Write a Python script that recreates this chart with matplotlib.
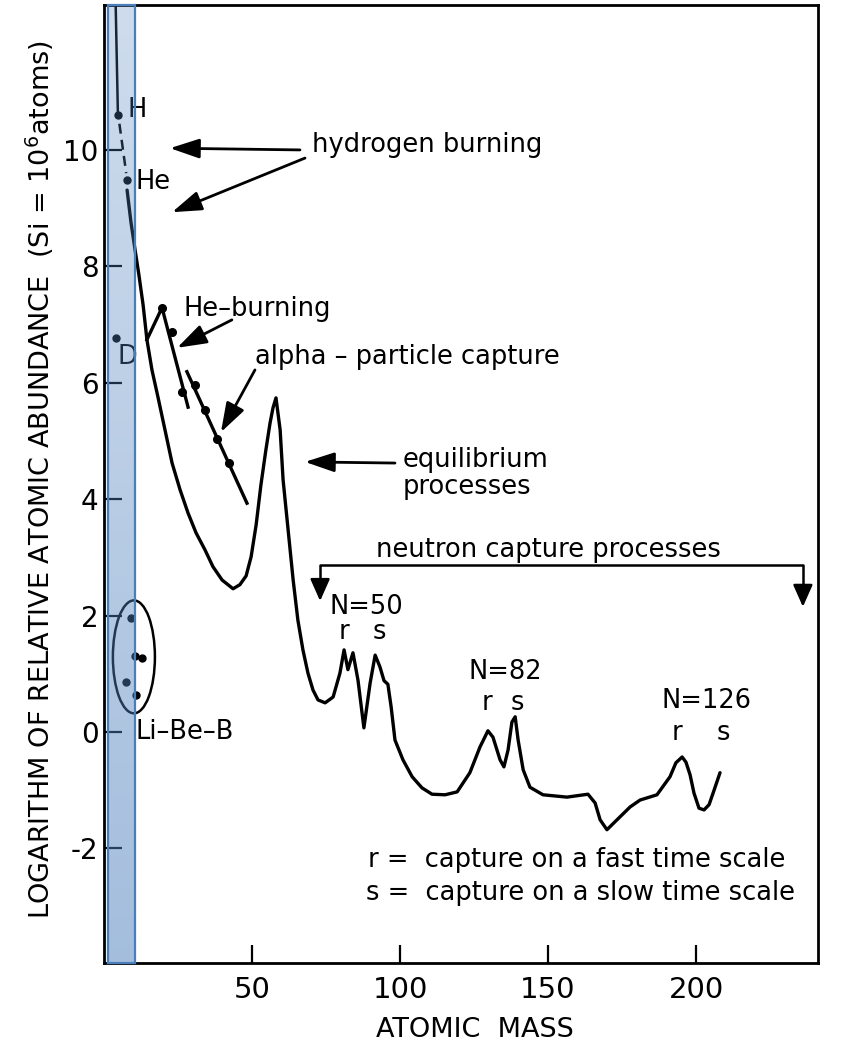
import matplotlib
matplotlib.use('Agg')
import matplotlib.pyplot as plt
import numpy as np
from matplotlib.patches import Ellipse, Rectangle

plt.rcParams['font.family'] = ['DejaVu Sans']
plt.rcParams['axes.unicode_minus'] = False

# ---------------- data ----------------
# main abundance curve (atomic mass, log abundance)
curve_mass = [7.8, 9.1, 10.5, 11.8, 13.2, 14.5, 16.2, 18.2, 20.6, 23.0, 25.7, 28.4, 31.1, 34.1,
              36.8, 39.9, 43.6, 45.9, 48.0, 49.7, 51.4, 53.0, 54.7, 56.1, 57.1, 58.1, 59.5, 60.5,
              62.2, 63.9, 65.5, 67.2, 68.9, 70.6, 72.3, 74.7, 77.4, 79.7, 81.1, 82.4, 84.1, 85.8,
              87.8, 89.9, 91.6, 93.2, 94.6, 95.9, 97.0, 98.3, 101.0, 104.1, 107.4, 110.8, 115.2,
              119.3, 123.6, 127.0, 129.7, 131.4, 133.8, 135.1, 136.5, 137.8, 138.9, 139.9, 141.6,
              143.9, 148.3, 156.4, 163.5, 165.9, 167.6, 169.9, 173.3, 177.7, 181.1, 186.8, 191.2,
              193.2, 195.3, 196.6, 198.0, 199.3, 201.0, 202.7, 204.4, 206.1, 208.1]
curve_log = [9.31, 8.76, 8.28, 7.85, 7.34, 6.74, 6.22, 5.76, 5.19, 4.62, 4.16, 3.76, 3.42, 3.13,
             2.84, 2.61, 2.46, 2.53, 2.68, 3.01, 3.56, 4.24, 4.85, 5.31, 5.57, 5.74, 5.19, 4.33,
             3.47, 2.61, 1.92, 1.41, 1.01, 0.72, 0.55, 0.50, 0.60, 1.01, 1.41, 1.07, 1.36, 0.89,
             0.07, 0.84, 1.32, 1.12, 0.88, 0.82, 0.43, -0.14, -0.48, -0.77, -0.96, -1.07, -1.08,
             -1.03, -0.70, -0.26, 0.02, -0.09, -0.48, -0.60, -0.31, 0.17, 0.26, -0.14, -0.65,
             -0.95, -1.08, -1.12, -1.07, -1.22, -1.51, -1.68, -1.51, -1.29, -1.17, -1.08, -0.77,
             -0.53, -0.43, -0.52, -0.74, -1.05, -1.31, -1.34, -1.25, -1.00, -0.70]

# line above hydrogen and the dashed H -> He link
top_mass = [3.9, 4.7]
top_log = [12.6, 10.6]
link_mass = [5.2, 7.5]
link_log = [10.45, 9.6]

# light elements
light_names = ['H', 'He', 'D']
light_mass = [4.7, 7.8, 4.1]
light_log = [10.6, 9.48, 6.77]

# He-burning zig-zag and points
heb_mass = [14.5, 19.6, 28.4]
heb_log = [6.74, 7.29, 5.58]
heb_pt_mass = [19.6, 23.0, 26.4]
heb_pt_log = [7.29, 6.87, 5.84]

# alpha-particle capture line and points
alpha_mass = [28.0, 48.3]
alpha_log = [6.19, 3.93]
alpha_pt_mass = [30.7, 34.1, 38.2, 42.2]
alpha_pt_log = [5.96, 5.53, 5.03, 4.62]

# Li-Be-B points
libeb_mass = [9.1, 10.5, 12.8, 7.4, 10.8]
libeb_log = [1.96, 1.31, 1.27, 0.86, 0.64]

x_ticks = [50, 100, 150, 200]
y_ticks = [-2, 0, 2, 4, 6, 8, 10]

# ---------------- figure ----------------
W, H = 850, 1051
fig = plt.figure(figsize=(W / 100, H / 100), dpi=100)
ax = fig.add_axes([104 / W, 88 / H, (818 - 104) / W, (1046 - 88) / H])
ax.set_xlim(0, 241.2)
ax.set_ylim(-3.97, 12.49)

lw = 2.4
ax.plot(curve_mass, curve_log, color='black', lw=lw, solid_joinstyle='round',
        solid_capstyle='round', zorder=3)
ax.plot(top_mass, top_log, color='black', lw=1.8, zorder=3)
ax.plot(link_mass, link_log, color='black', lw=1.8, ls=(0, (4, 2.5)), zorder=3)
ax.plot(light_mass, light_log, 'o', color='black', ms=5, zorder=4)

ax.plot(heb_mass, heb_log, color='black', lw=lw, solid_joinstyle='round', zorder=3)
ax.plot(heb_pt_mass, heb_pt_log, 'o', color='black', ms=5.5, zorder=4)
ax.plot(alpha_mass, alpha_log, color='black', lw=lw, zorder=3)
ax.plot(alpha_pt_mass, alpha_pt_log, 'o', color='black', ms=5.5, zorder=4)

ax.plot(libeb_mass, libeb_log, 'o', color='black', ms=5, zorder=4)
ax.add_patch(Ellipse((10.1, 1.29), 14.2, 1.94, fill=False, ec='black', lw=1.8, zorder=3))

fs = 18.5
txt = dict(fontsize=fs, color='black', zorder=4)
ax.text(8.1, 10.69, 'H', ha='left', va='center', **txt)
ax.text(10.8, 9.45, 'He', ha='left', va='center', **txt)
ax.text(4.4, 6.44, 'D', ha='left', va='center', **txt)
ax.text(70.3, 10.09, 'hydrogen burning', ha='left', va='center', **txt)
ax.text(26.7, 7.27, 'He\u2013burning', ha='left', va='center', **txt)
ax.text(51.0, 6.44, 'alpha \u2013 particle capture', ha='left', va='center', **txt)
ax.text(101.0, 4.67, 'equilibrium', ha='left', va='center', **txt)
ax.text(101.0, 4.21, 'processes', ha='left', va='center', **txt)
ax.text(150.0, 3.13, 'neutron capture processes', ha='center', va='center', **txt)
ax.text(88.5, 2.15, 'N=50', ha='center', va='center', **txt)
ax.text(81.1, 1.72, 'r', ha='center', va='center', **txt)
ax.text(92.9, 1.72, 's', ha='center', va='center', **txt)
ax.text(135.5, 1.03, 'N=82', ha='center', va='center', **txt)
ax.text(129.4, 0.50, 'r', ha='center', va='center', **txt)
ax.text(139.5, 0.50, 's', ha='center', va='center', **txt)
ax.text(203.7, 0.53, 'N=126', ha='center', va='center', **txt)
ax.text(193.6, -0.02, 'r', ha='center', va='center', **txt)
ax.text(209.1, -0.02, 's', ha='center', va='center', **txt)
ax.text(10.5, 0.0, 'Li\u2013Be\u2013B', ha='left', va='center', **txt)
ax.text(89.2, -2.20, 'r =  capture on a fast time scale', ha='left', va='center', **txt)
ax.text(88.5, -2.77, 's =  capture on a slow time scale', ha='left', va='center', **txt)

arrow = dict(arrowstyle='-|>,head_length=0.9,head_width=0.3', color='black', lw=2,
             mutation_scale=20, shrinkA=0, shrinkB=0)
ax.annotate('', xy=(22.3, 10.03), xytext=(66.2, 10.0), arrowprops=arrow, zorder=4)
ax.annotate('', xy=(23.0, 8.93), xytext=(67.9, 9.86), arrowprops=arrow, zorder=4)
ax.annotate('', xy=(24.7, 6.60), xytext=(43.2, 7.08), arrowprops=arrow, zorder=4)
ax.annotate('', xy=(39.5, 5.15), xytext=(51.0, 6.22), arrowprops=arrow, zorder=4)
ax.annotate('', xy=(67.9, 4.64), xytext=(98.3, 4.62), arrowprops=arrow, zorder=4)

# neutron capture bracket
small = dict(arrowstyle='-|>,head_length=0.9,head_width=0.4', color='black', lw=1.8,
             mutation_scale=15, shrinkA=0, shrinkB=0)
ax.plot([73.0, 73.0, 236.1, 236.1], [2.55, 2.87, 2.87, 2.5], color='black', lw=1.8, zorder=4)
ax.annotate('', xy=(73.0, 2.25), xytext=(73.0, 2.6), arrowprops=small, zorder=4)
ax.annotate('', xy=(236.1, 2.15), xytext=(236.1, 2.5), arrowprops=small, zorder=4)

# ticks and spines
ax.set_xticks(x_ticks)
ax.set_yticks(y_ticks)
ax.tick_params(direction='in', length=13, width=1.6, labelsize=20, colors='black')
ax.tick_params(axis='x', pad=9, labelsize=21)
ax.tick_params(axis='y', pad=4)
for s in ax.spines.values():
    s.set_linewidth(2)

# highlighted column
y0, y1 = ax.get_ylim()
grad = np.zeros((100, 1, 4))
base = np.array([79, 129, 189]) / 255.0
grad[:, 0, :3] = base
grad[:, 0, 3] = np.linspace(0.28, 0.52, 100)
ax.imshow(grad, extent=[1.35, 10.5, y0, y1], origin='upper', aspect='auto', zorder=6,
          interpolation='bilinear')
ax.add_patch(Rectangle((1.35, y0), 10.5 - 1.35, y1 - y0, fill=False, ec='#4a7ebb', lw=1.6,
                       zorder=7, clip_on=False))
ax.set_xlim(0, 241.2)
ax.set_ylim(y0, y1)

fig.text(40 / W, 1 - 480 / H, 'LOGARITHM OF RELATIVE ATOMIC ABUNDANCE  (Si = 10$^6$atoms)',
         rotation=90, ha='center', va='center', fontsize=19.5)
fig.text(475 / W, 1 - 1030 / H, 'ATOMIC  MASS', ha='center', va='center', fontsize=19.5)

fig.savefig('out.png', dpi=100)
